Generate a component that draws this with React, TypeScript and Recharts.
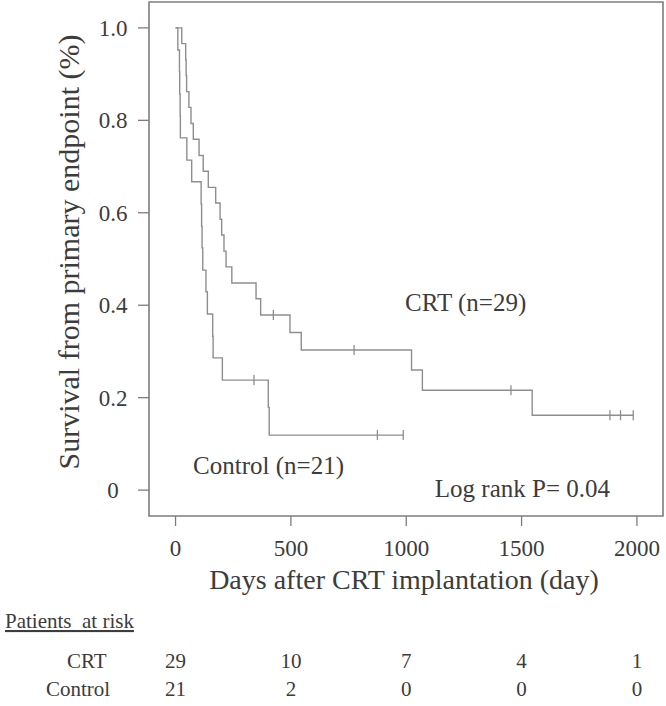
import {
  ComposedChart,
  Line,
  Scatter,
  XAxis,
  YAxis,
  ReferenceArea,
  ReferenceDot,
} from 'recharts';

// Kaplan-Meier steps (day, survival)
const crtDays = [0, 27, 44, 46, 48, 58, 67, 77, 102, 120, 142, 174, 193, 200, 210, 219, 244, 349, 369, 496, 545, 1023, 1070, 1546, 1984];
const crtSurv = [1.0, 0.966, 0.931, 0.897, 0.862, 0.828, 0.793, 0.759, 0.724, 0.69, 0.655, 0.621, 0.586, 0.552, 0.517, 0.483, 0.448, 0.414, 0.379, 0.341, 0.303, 0.26, 0.216, 0.162, 0.162];
const crtCensorDays = [424, 774, 1454, 1883, 1929, 1984];
const crtCensorSurv = [0.379, 0.303, 0.216, 0.162, 0.162, 0.162];

const controlDays = [0, 10, 17, 18, 20, 21, 49, 70, 111, 113, 115, 118, 132, 138, 161, 163, 203, 402, 406, 987];
const controlSurv = [1.0, 0.952, 0.905, 0.857, 0.81, 0.762, 0.714, 0.667, 0.619, 0.571, 0.524, 0.476, 0.429, 0.381, 0.333, 0.286, 0.238, 0.179, 0.119, 0.119];
const controlCensorDays = [340, 875, 987];
const controlCensorSurv = [0.238, 0.119, 0.119];

const dayTicks = [0, 500, 1000, 1500, 2000];
const survTicks = [0, 0.2, 0.4, 0.6, 0.8, 1.0];
const survTickLabels = ['0', '0.2', '0.4', '0.6', '0.8', '1.0'];

const crtAtRisk = [29, 10, 7, 4, 1];
const controlAtRisk = [21, 2, 0, 0, 0];

const X_DOMAIN: [number, number] = [-115, 2113];
const Y_DOMAIN: [number, number] = [-0.056, 1.056];

const LINE = '#8e8e8e';
const BOX = '#7d7d7d';
const TEXT = '#3c3c3c';
const FONT = "'Liberation Serif', 'Times New Roman', serif";
const serif = { fontFamily: FONT };

const toPoints = (days: number[], surv: number[]) =>
  days.map((d, i) => ({ day: d, s: surv[i] }));

const crtData = toPoints(crtDays, crtSurv);
const controlData = toPoints(controlDays, controlSurv);
const crtCensor = toPoints(crtCensorDays, crtCensorSurv);
const controlCensor = toPoints(controlCensorDays, controlCensorSurv);

function CensorMark(props: any) {
  const { cx, cy } = props;
  return <line x1={cx} x2={cx} y1={cy - 5} y2={cy + 5} stroke={LINE} strokeWidth={1.3} />;
}

function DayTick(props: any) {
  const { x, y, payload } = props;
  const i = dayTicks.indexOf(payload.value);
  return (
    <g fill={TEXT} textAnchor="middle">
      <text x={x} y={y + 30} fontSize={23} style={serif}>{payload.value}</text>
      <text x={x} y={y + 142} fontSize={21} style={serif}>{crtAtRisk[i]}</text>
      <text x={x} y={y + 170} fontSize={21} style={serif}>{controlAtRisk[i]}</text>
    </g>
  );
}

function SurvTick(props: any) {
  const { x, y, payload } = props;
  const i = survTicks.indexOf(payload.value);
  return (
    <text x={x - 25} y={y + 8} textAnchor="middle" fontSize={23} fill={TEXT} style={serif}>
      {survTickLabels[i]}
    </text>
  );
}

function BottomTitles() {
  return (
    <g fill={TEXT}>
      <text x={404} y={589} textAnchor="middle" fontSize={28} style={serif}>
        Days after CRT implantation (day)
      </text>
      <text
        x={5}
        y={628}
        fontSize={21}
        textDecoration="underline"
        style={{ ...serif, whiteSpace: 'pre' }}
      >
        {'Patients  at risk'}
      </text>
      <text x={67} y={668} fontSize={21} style={serif}>CRT</text>
      <text x={46} y={696} fontSize={21} style={serif}>Control</text>
    </g>
  );
}

function SideTitle() {
  return (
    <text
      x={68}
      y={252}
      transform="rotate(-90 68 252)"
      textAnchor="middle"
      dominantBaseline="central"
      fontSize={30}
      fill={TEXT}
      style={serif}
    >
      Survival from primary endpoint (%)
    </text>
  );
}

const noteStyle = { fontSize: 25, fill: TEXT, fontFamily: FONT };

export default function App() {
  return (
    <div style={{ position: 'absolute', left: 0, top: 0, background: '#fff' }}>
      <ComposedChart
        width={666}
        height={706}
        margin={{ top: 2, right: 3, bottom: 0, left: 0 }}
      >
        <XAxis
          dataKey="day"
          type="number"
          domain={X_DOMAIN}
          ticks={dayTicks}
          interval={0}
          allowDataOverflow
          height={190}
          tickSize={10}
          tickMargin={0}
          tickLine={{ stroke: BOX, strokeWidth: 1.3 }}
          axisLine={false}
          tick={<DayTick />}
          label={<BottomTitles />}
        />
        <YAxis
          type="number"
          domain={Y_DOMAIN}
          ticks={survTicks}
          interval={0}
          allowDataOverflow
          width={149}
          tickSize={11}
          tickMargin={0}
          tickLine={{ stroke: BOX, strokeWidth: 1.3 }}
          axisLine={false}
          tick={<SurvTick />}
          label={<SideTitle />}
        />
        <ReferenceArea
          x1={X_DOMAIN[0]}
          x2={X_DOMAIN[1]}
          y1={Y_DOMAIN[0]}
          y2={Y_DOMAIN[1]}
          fill="none"
          stroke={BOX}
          strokeWidth={1.6}
          ifOverflow="visible"
        />
        <Line
          data={controlData}
          dataKey="s"
          type="stepAfter"
          stroke={LINE}
          strokeWidth={1.4}
          dot={false}
          isAnimationActive={false}
        />
        <Line
          data={crtData}
          dataKey="s"
          type="stepAfter"
          stroke={LINE}
          strokeWidth={1.4}
          dot={false}
          isAnimationActive={false}
        />
        <Scatter data={crtCensor} dataKey="s" shape={<CensorMark />} isAnimationActive={false} />
        <Scatter data={controlCensor} dataKey="s" shape={<CensorMark />} isAnimationActive={false} />
        <ReferenceDot
          x={995}
          y={0.407}
          r={0}
          ifOverflow="visible"
          label={{ value: 'CRT (n=29)', position: 'right', offset: 0, ...noteStyle }}
        />
        <ReferenceDot
          x={76}
          y={0.054}
          r={0}
          ifOverflow="visible"
          label={{ value: 'Control (n=21)', position: 'right', offset: 0, ...noteStyle }}
        />
        <ReferenceDot
          x={1124}
          y={0.004}
          r={0}
          ifOverflow="visible"
          label={{ value: 'Log rank P= 0.04', position: 'right', offset: 0, ...noteStyle }}
        />
      </ComposedChart>
    </div>
  );
}
